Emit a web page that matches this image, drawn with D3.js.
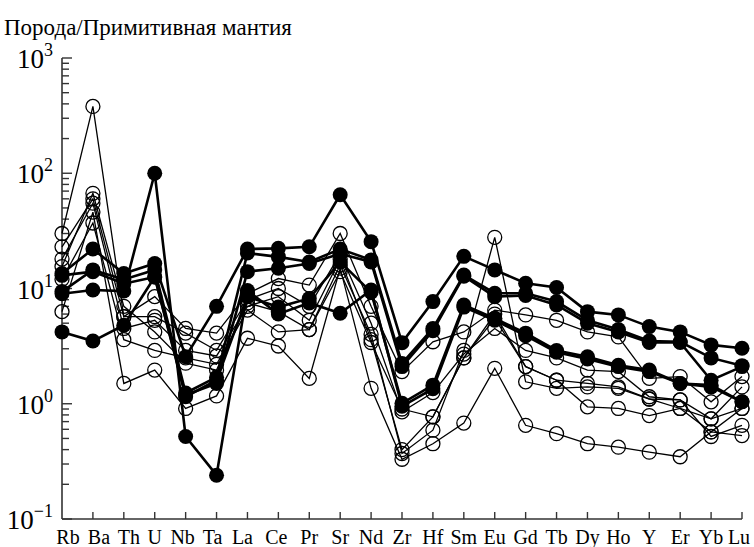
<!DOCTYPE html>
<html><head><meta charset="utf-8">
<script src="https://cdn.jsdelivr.net/npm/d3@7"></script>
<style>
html,body{margin:0;padding:0;background:#fff;}
</style></head>
<body><svg id="c" width="754" height="547" font-family="'Liberation Serif', 'Times New Roman', Times, 'DejaVu Serif', serif"></svg>
<script>
const categories = ["Rb","Ba","Th","U","Nb","Ta","La","Ce","Pr","Sr","Nd","Zr","Hf","Sm","Eu","Gd","Tb","Dy","Ho","Y","Er","Yb","Lu"];
const yTickExponents = [-1,0,1,2,3];
const title = "Порода/Примитивная мантия";

// open-circle samples (thin lines)
const open1 = [30,380,5.7,8.5,4.5,4.1,9,12.2,10.7,30,7,1.9,3.45,4.2,6.5,5.9,5.3,4.2,3.8,1.66,1.72,1.04,1.72];
const open2 = [23,60,5.7,5.7,4.1,2.9,8,10,7,20,5,0.85,1.25,2.7,4.5,2.9,2.5,1.96,1.9,1.15,1.08,0.74,1.4];
const open3 = [18,55,4.5,5.3,2.9,2.6,7,8.5,5.3,18,3.6,0.4,0.77,2.5,6,2.1,1.6,1.5,1.4,1.1,0.91,0.57,0.91];
const open4 = [15.5,67,7,4.2,2.25,1.96,7.5,6.3,4.4,16,4,0.37,0.59,2.9,27.8,1.55,1.36,1.4,1.36,1.1,1.08,0.52,0.65];
const open5 = [6.3,46,1.5,1.96,0.91,1.17,3.7,3.17,1.66,15,1.36,0.33,0.45,0.68,2.03,0.65,0.55,0.45,0.42,0.38,0.347,0.57,0.53];
const open6 = [12,37,3.6,2.9,2.5,2.2,6.5,4.2,4.4,14,3.4,0.9,0.77,2.5,5.5,2.1,1.6,0.94,0.91,0.79,0.91,0.74,0.91];
// filled-circle samples (thick lines)
const filled1 = [13.5,22,13.5,16.5,2.56,7.0,22,22.3,23,65,25.5,3.39,7.7,19,14.5,11.1,10.2,6.3,5.9,4.67,4.2,3.24,3.03];
const filled2 = [9.4,14.5,12,14.5,1.24,1.7,20.3,18.8,17,22,17.7,2.24,4.5,13.1,9.1,9.1,7.7,5.3,4.4,3.5,3.45,2.5,2.14];
const filled3 = [13,14,11,12.6,1.19,1.5,14,15,16.5,20,17,2.1,4.3,12.8,8.5,8.7,7.2,5.0,4.2,3.4,3.4,1.6,2.1];
const filled4 = [4.2,3.5,4.8,12.6,1.15,1.6,8.5,6.9,8.2,17,9.3,1.01,1.45,7.2,5.5,4.1,2.9,2.56,2.16,1.96,1.5,1.4,1.04];
const filled5 = [9.0,9.7,9.5,100,0.52,0.24,9.6,6.0,7.5,6.1,9.7,0.95,1.35,6.9,5.3,3.9,2.8,2.45,2.1,1.9,1.5,1.45,1.04];

const openSeries = [open1,open2,open3,open4,open5,open6];
const filledSeries = [filled1,filled2,filled3,filled4,filled5];

const svg = d3.select("#c");
const x = d3.scalePoint().domain(categories).range([62, 742]);
const y = d3.scaleLog().domain([0.1, 1000]).range([519, 58]);

// title
svg.append("text").attr("x", 4).attr("y", 35).attr("font-size", 23).text(title);

const axisColor = "#333";
svg.append("line").attr("x1", x("Rb")).attr("x2", x("Rb")).attr("y1", y(1000)).attr("y2", y(0.1))
  .attr("stroke", axisColor).attr("stroke-width", 1.6);
svg.append("line").attr("x1", x("Rb")).attr("x2", x("Lu")).attr("y1", y(0.1)).attr("y2", y(0.1))
  .attr("stroke", axisColor).attr("stroke-width", 1.6);

const yTicks = [];
yTickExponents.forEach(e => {
  if (e < 3) for (let k = 1; k <= 9; k++) yTicks.push({v: k*Math.pow(10,e), major: k===1});
  else yTicks.push({v: 1000, major: true});
});
svg.selectAll(".yt").data(yTicks).enter().append("line")
  .attr("x1", x("Rb")).attr("x2", d => x("Rb") + (d.major ? 10 : 7))
  .attr("y1", d => y(d.v)).attr("y2", d => y(d.v))
  .attr("stroke", axisColor).attr("stroke-width", 1.4);

yTickExponents.forEach(e => {
  const t = svg.append("text").attr("x", 53).attr("y", y(Math.pow(10,e)) + 10)
    .attr("text-anchor", "end").attr("font-size", 27);
  t.append("tspan").text("10");
  t.append("tspan").attr("font-size", 18).attr("dy", -12).text(e < 0 ? "\u2212" + Math.abs(e) : String(e));
});

svg.selectAll(".xt").data(categories.slice(1)).enter().append("line")
  .attr("x1", d => x(d)).attr("x2", d => x(d))
  .attr("y1", y(0.1)).attr("y2", y(0.1) - 7)
  .attr("stroke", axisColor).attr("stroke-width", 1.4);

const labelShift = {Rb: 6, Ba: 6, Th: 5, Nb: -3, Ta: -4, La: -5, Ce: -2, Lu: -3};
svg.selectAll(".xl").data(categories).enter().append("text")
  .attr("x", d => x(d) + (labelShift[d] || 0)).attr("y", 544)
  .attr("text-anchor", "middle").attr("font-size", 20).text(d => d);

const line = d3.line().x((d,i) => x(categories[i])).y(d => y(d));

openSeries.forEach(s => {
  svg.append("path").datum(s).attr("d", line).attr("fill", "none")
    .attr("stroke", "#000").attr("stroke-width", 1.3);
  svg.append("g").selectAll("circle").data(s).enter().append("circle")
    .attr("cx", (d,i) => x(categories[i])).attr("cy", d => y(d)).attr("r", 7)
    .attr("fill", "none").attr("stroke", "#000").attr("stroke-width", 1.3);
});
filledSeries.forEach(s => {
  svg.append("path").datum(s).attr("d", line).attr("fill", "none")
    .attr("stroke", "#000").attr("stroke-width", 2.6);
  svg.append("g").selectAll("circle").data(s).enter().append("circle")
    .attr("cx", (d,i) => x(categories[i])).attr("cy", d => y(d)).attr("r", 7.5)
    .attr("fill", "#000");
});
</script></body></html>
